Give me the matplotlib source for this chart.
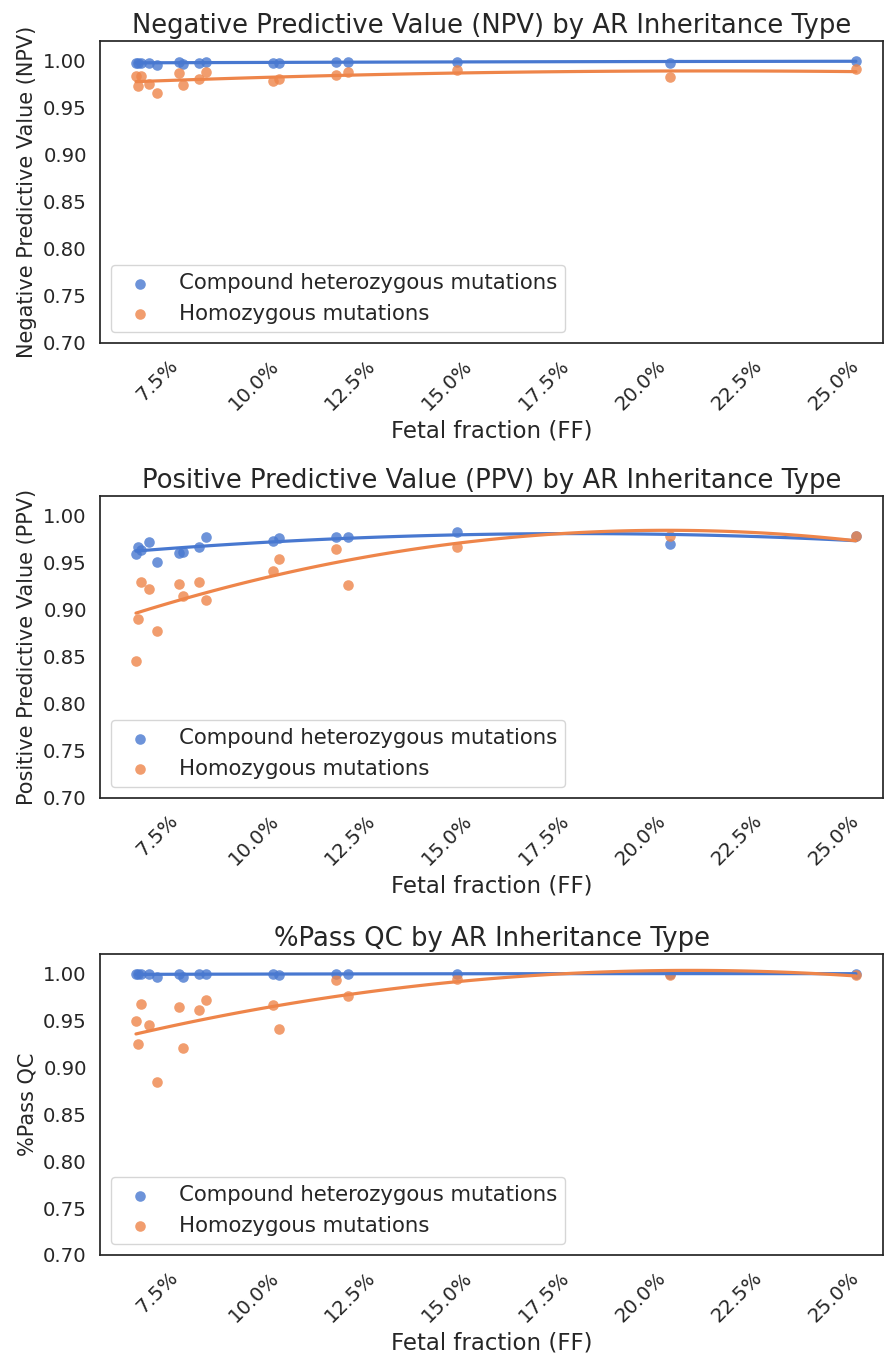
import numpy as np
import pandas as pd
import matplotlib
matplotlib.use("Agg")
import matplotlib.pyplot as plt
import seaborn as sns
from matplotlib.ticker import PercentFormatter, MultipleLocator

# Fetal fraction (%) groups
ff = [6.96, 7.02, 7.08, 7.30, 7.51, 8.06, 8.18, 8.58, 8.78,
      10.49, 10.65, 12.12, 12.44, 15.25, 20.76, 25.57]

npv_compound = [0.998, 0.998, 0.998, 0.998, 0.996, 0.999, 0.997, 0.998, 0.999,
                0.998, 0.998, 0.999, 0.999, 0.999, 0.998, 1.000]
npv_homo = [0.984, 0.973, 0.984, 0.975, 0.966, 0.987, 0.974, 0.981, 0.988,
            0.979, 0.981, 0.985, 0.988, 0.990, 0.983, 0.991]

ppv_compound = [0.959, 0.967, 0.964, 0.972, 0.951, 0.960, 0.962, 0.967, 0.977,
                0.973, 0.976, 0.977, 0.977, 0.983, 0.970, 0.978]
ppv_homo = [0.846, 0.890, 0.930, 0.922, 0.878, 0.927, 0.915, 0.930, 0.910,
            0.941, 0.954, 0.965, 0.926, 0.967, 0.978, 0.978]

qc_compound = [1.000, 1.000, 1.000, 1.000, 0.997, 1.000, 0.997, 1.000, 1.000,
               1.000, 0.999, 1.000, 1.000, 1.000, 1.000, 1.000]
qc_homo = [0.950, 0.925, 0.968, 0.945, 0.884, 0.965, 0.921, 0.961, 0.972,
           0.967, 0.941, 0.993, 0.976, 0.994, 0.999, 0.999]

series_labels = ["Compound heterozygous mutations", "Homozygous mutations"]
titles = ["Negative Predictive Value (NPV) by AR Inheritance Type",
          "Positive Predictive Value (PPV) by AR Inheritance Type",
          "%Pass QC by AR Inheritance Type"]
ylabels = ["Negative Predictive Value (NPV)",
           "Positive Predictive Value (PPV)",
           "%Pass QC"]
xlabel = "Fetal fraction (FF)"

panels = [(npv_compound, npv_homo), (ppv_compound, ppv_homo), (qc_compound, qc_homo)]

sns.set_theme(style="white", palette="muted")
plt.rcParams['font.family'] = ['DejaVu Sans']
colors = sns.color_palette("muted")

W, H = 886, 1357
fig = plt.figure(figsize=(W / 100, H / 100), dpi=100)

left_px, right_px = 100, 883
tops = [41, 496, 954]
bottoms = [343, 798, 1255]

for i, (comp, homo) in enumerate(panels):
    ax = fig.add_axes([left_px / W, 1 - bottoms[i] / H,
                       (right_px - left_px) / W, (bottoms[i] - tops[i]) / H])
    for j, vals in enumerate([comp, homo]):
        df = pd.DataFrame({"ff": ff, "v": vals})
        sns.regplot(data=df, x="ff", y="v", order=2, ci=None, ax=ax,
                    color=colors[j], label=series_labels[j],
                    scatter_kws={"s": 58, "alpha": 0.8, "linewidths": 0},
                    line_kws={"lw": 2.3})
    ax.set_xlim(6.03, 26.27)
    ax.set_ylim(0.70, 1.021)
    ax.yaxis.set_major_locator(MultipleLocator(0.05))
    ax.xaxis.set_major_locator(MultipleLocator(2.5))
    ax.xaxis.set_major_formatter(PercentFormatter(xmax=100, decimals=1))
    ax.tick_params(axis='both', labelsize=14.2, colors='.15')
    for lab in ax.get_xticklabels():
        lab.set_rotation(45)
    ax.set_title(titles[i], fontsize=18.6, color='.15')
    ax.set_xlabel(xlabel, fontsize=16.5, color='.15')
    ax.set_ylabel(ylabels[i], fontsize=15, color='.15')
    ax.legend(loc="lower left", fontsize=15.3)
    for s in ax.spines.values():
        s.set_color('.15')
        s.set_linewidth(1.25)

fig.savefig("out.png", dpi=100)
